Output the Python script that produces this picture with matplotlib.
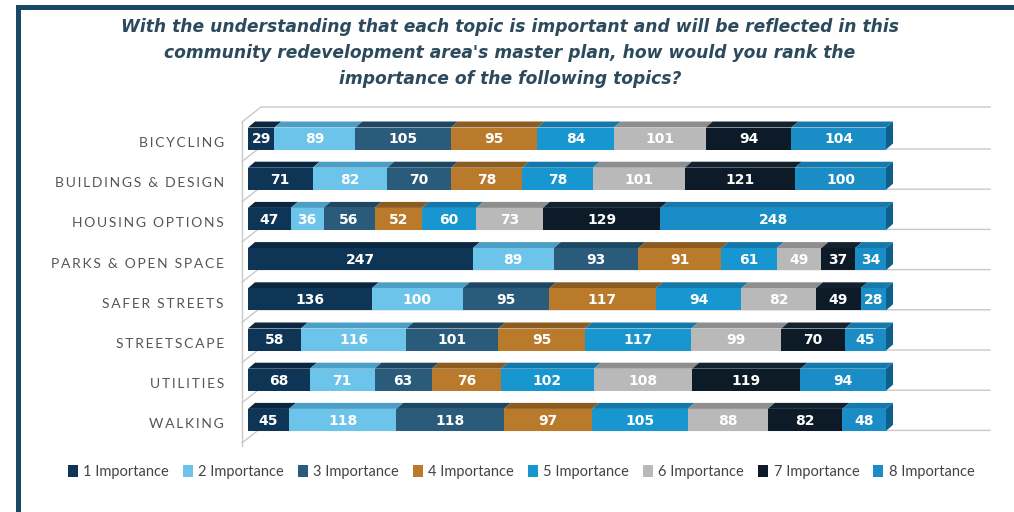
import matplotlib
matplotlib.use("Agg")
import matplotlib.pyplot as plt
from matplotlib.patches import Polygon, Rectangle
import numpy as np

# ---------------- data ----------------
categories = ["BICYCLING", "BUILDINGS & DESIGN", "HOUSING OPTIONS", "PARKS & OPEN SPACE",
              "SAFER STREETS", "STREETSCAPE", "UTILITIES", "WALKING"]
series_names = ["1 Importance", "2 Importance", "3 Importance", "4 Importance",
                "5 Importance", "6 Importance", "7 Importance", "8 Importance"]
imp1 = [29, 71, 47, 247, 136, 58, 68, 45]
imp2 = [89, 82, 36, 89, 100, 116, 71, 118]
imp3 = [105, 70, 56, 93, 95, 101, 63, 118]
imp4 = [95, 78, 52, 91, 117, 95, 76, 97]
imp5 = [84, 78, 60, 61, 94, 117, 102, 105]
imp6 = [101, 101, 73, 49, 82, 99, 108, 88]
imp7 = [94, 121, 129, 37, 49, 70, 119, 82]
imp8 = [104, 100, 248, 34, 28, 45, 94, 48]
title = ("With the understanding that each topic is important and will be reflected in this\n"
         "community redevelopment area's master plan, how would you rank the\n"
         "importance of the following topics?")

series = [imp1, imp2, imp3, imp4, imp5, imp6, imp7, imp8]
front_colors = ["#0e3556", "#6cc4ea", "#2b5b7a", "#b97a2c", "#1896cf", "#b9b9b9", "#0c1b27", "#1a8dc6"]
top_colors = ["#0a2742", "#4b9ec6", "#1d4762", "#8c5b20", "#1478aa", "#8e8e8e", "#13222e", "#1679ab"]
side_color = "#0f5f8c"

# ---------------- figure ----------------
W, H = 1014, 512
fig = plt.figure(figsize=(W / 100, H / 100), dpi=100)
fig.patch.set_facecolor("white")

# frame
frame_col = "#174a66"
fig.patches.append(Rectangle((16 / W, 1 - 10 / H), 1 - 16 / W, 5 / H, transform=fig.transFigure,
                             facecolor=frame_col, edgecolor="none", zorder=0))
fig.patches.append(Rectangle((16 / W, 0), 5 / W, 1 - 5 / H, transform=fig.transFigure,
                             facecolor=frame_col, edgecolor="none", zorder=0))

# axes geometry (pixel calibrated)
ax_l, ax_r, ax_t, ax_b = 230, 1000, 95, 455
ax = fig.add_axes([ax_l / W, 1 - ax_b / H, (ax_r - ax_l) / W, (ax_b - ax_t) / H])
x0_px, xend_px = 248, 886
total = 701
sc = (xend_px - x0_px) / total          # px per unit
row0_px, row_sp = 138.5, 40.2
ax.set_xlim((ax_l - x0_px) / sc, (ax_r - x0_px) / sc)
ax.set_ylim((ax_b - row0_px) / row_sp, (ax_t - row0_px) / row_sp)
ax.axis("off")

def ux(px):
    return (px - x0_px) / sc

def uy(py):
    return (py - row0_px) / row_sp

bh = 22 / row_sp
ddx = 7 / sc
ddy = 6 / row_sp

y = np.arange(len(categories))

# back wall / floor lines
gc = "#c9c9c9"
ax.plot([ux(242), ux(242)], [uy(122), uy(446)], color=gc, lw=1, zorder=0.5)
ax.plot([ux(242), ux(261), ux(990)], [uy(122), uy(107), uy(107)], color=gc, lw=1, zorder=0.5)
for yi in y:
    yb = yi + bh / 2
    ax.plot([ux(242), ux(258), ux(990)], [yb + 12 / row_sp, yb - 0.5 / row_sp, yb - 0.5 / row_sp],
            color=gc, lw=1, zorder=0.5)

# bars
left = np.zeros(len(categories))
handles = []
for si, vals in enumerate(series):
    vals = np.array(vals, dtype=float)
    bars = ax.barh(y, vals, left=left, height=bh, color=front_colors[si], edgecolor="none",
                   zorder=2, label=series_names[si])
    handles.append(bars)
    for yi, l, v in zip(y, left, vals):
        top = yi - bh / 2
        ax.add_patch(Polygon([(l, top), (l + v, top), (l + v + ddx, top - ddy), (l + ddx, top - ddy)],
                             closed=True, facecolor=top_colors[si], edgecolor="none", zorder=1.8))
        ax.text(l + v / 2, yi + 0.02, f"{int(v)}", ha="center", va="center", color="white",
                fontsize=10, fontweight="bold", family="DejaVu Sans", zorder=3)
    left = left + vals

# right side face
for yi, r in zip(y, left):
    top = yi - bh / 2
    bot = yi + bh / 2
    ax.add_patch(Polygon([(r, top), (r + ddx, top - ddy), (r + ddx, bot - ddy), (r, bot)],
                         closed=True, facecolor=side_color, edgecolor="none", zorder=1.9))

# category labels (letter-spaced)
hs = "\u2009"
for yi, cat in zip(y, categories):
    spaced = hs.join(list(cat))
    ax.text(ux(224), yi + 4.5 / row_sp, spaced, ha="right", va="center", color="#555555",
            fontsize=10, family=["Lato", "DejaVu Sans"], clip_on=False)

# title
fig.text(510 / W, 1 - 53 / H, title, ha="center", va="center", color="#2c4a5c",
         fontsize=12.3, fontweight="bold", fontstyle="italic", linespacing=1.6,
         family=["DejaVu Sans"])

# legend
leg = fig.legend(handles=handles, labels=series_names, loc="center", bbox_to_anchor=(521 / W, 1 - 472 / H),
                 ncol=8, frameon=False, handlelength=0.7, handleheight=0.8, handletextpad=0.35,
                 columnspacing=0.96, prop={"family": ["Lato", "DejaVu Sans"], "size": 10.5})
for t in leg.get_texts():
    t.set_color("#444444")

fig.savefig("out.png", dpi=100, facecolor="white")
